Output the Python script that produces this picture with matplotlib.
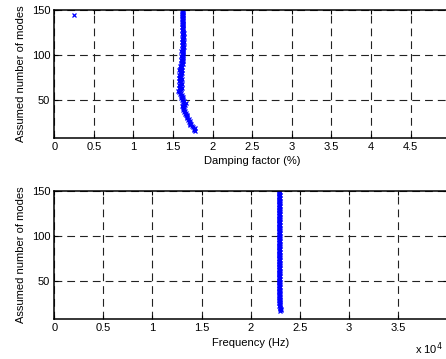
import numpy as np
import matplotlib
matplotlib.use("Agg")
import matplotlib.pyplot as plt

# numero de modos supuestos
modos = np.arange(16, 151)

# factor de amortiguamiento (%) por modo
amortiguamiento = [
    1.78, 1.77, 1.76, 1.78, 1.75,
    1.74, 1.72, 1.73, 1.71, 1.72,
    1.70, 1.71, 1.69, 1.70, 1.68,
    1.67, 1.68, 1.66, 1.67, 1.65,
    1.66, 1.64, 1.65, 1.63, 1.64,
    1.62, 1.64, 1.63, 1.61, 1.65,
    1.63, 1.66, 1.62, 1.64, 1.61,
    1.62, 1.60, 1.61, 1.63, 1.60,
    1.61, 1.59, 1.60, 1.58, 1.56,
    1.59, 1.60, 1.58, 1.61, 1.59,
    1.60, 1.58, 1.61, 1.59, 1.60,
    1.58, 1.60, 1.59, 1.61, 1.58,
    1.60, 1.59, 1.58, 1.60, 1.61,
    1.59, 1.60, 1.58, 1.61, 1.59,
    1.60, 1.61, 1.59, 1.60, 1.62,
    1.60, 1.61, 1.62, 1.60, 1.61,
    1.62, 1.61, 1.63, 1.60, 1.62,
    1.61, 1.63, 1.62, 1.60, 1.62,
    1.63, 1.61, 1.62, 1.64, 1.62,
    1.61, 1.63, 1.62, 1.64, 1.61,
    1.62, 1.63, 1.61, 1.62, 1.64,
    1.62, 1.63, 1.61, 1.64, 1.62,
    1.63, 1.62, 1.61, 1.63, 1.62,
    1.61, 1.62, 1.63, 1.61, 1.62,
    1.62, 1.61, 1.63, 1.62, 1.61,
    1.62, 1.61, 1.62, 1.63, 1.61,
    1.62, 1.61, 1.62, 1.61, 1.62,
]

# punto aislado
modo_aislado = [144]
amort_aislado = [0.25]

# frecuencia (escala x 10^n) por modo
frecuencia = [
    2.30, 2.31, 2.30, 2.31, 2.30,
    2.30, 2.29, 2.30, 2.30, 2.29,
    2.30, 2.29, 2.30, 2.29, 2.30,
    2.29, 2.30, 2.29, 2.29, 2.30,
    2.29, 2.30, 2.29, 2.29, 2.30,
    2.29, 2.29, 2.30, 2.29, 2.29,
    2.30, 2.29, 2.29, 2.30, 2.29,
    2.29, 2.30, 2.29, 2.29, 2.30,
    2.29, 2.29, 2.30, 2.29, 2.29,
    2.30, 2.29, 2.29, 2.30, 2.29,
    2.29, 2.30, 2.29, 2.29, 2.30,
    2.29, 2.29, 2.30, 2.29, 2.29,
    2.30, 2.29, 2.29, 2.30, 2.29,
    2.29, 2.30, 2.29, 2.29, 2.30,
    2.29, 2.29, 2.30, 2.29, 2.29,
    2.30, 2.29, 2.29, 2.30, 2.29,
    2.29, 2.30, 2.29, 2.29, 2.30,
    2.29, 2.29, 2.30, 2.29, 2.29,
    2.30, 2.29, 2.29, 2.30, 2.29,
    2.29, 2.30, 2.29, 2.29, 2.30,
    2.29, 2.29, 2.30, 2.29, 2.29,
    2.30, 2.29, 2.29, 2.30, 2.29,
    2.29, 2.30, 2.29, 2.29, 2.30,
    2.29, 2.29, 2.30, 2.29, 2.29,
    2.30, 2.29, 2.29, 2.30, 2.29,
    2.29, 2.30, 2.29, 2.29, 2.30,
    2.29, 2.29, 2.30, 2.29, 2.29,
]

plt.rcParams['font.family'] = ['Liberation Sans', 'DejaVu Sans']
plt.rcParams['font.size'] = 8

fig = plt.figure(figsize=(4.46, 3.59), dpi=100)
# los ejes siguen mas alla del borde derecho, como en la figura original
ax1 = fig.add_axes([0.1218, 0.6156, 0.8875, 0.3565])
ax2 = fig.add_axes([0.1218, 0.1106, 0.8805, 0.3582])

def estilo(ax):
    ax.grid(True, color='#222222', linestyle=(0, (7, 4.5)), linewidth=0.8)
    ax.tick_params(direction='in', top=True, right=True, length=3, width=0.8,
                   labelsize=8, pad=3)
    for s in ax.spines.values():
        s.set_linewidth(1.1)
    ax.set_yticks([50, 100, 150])
    ax.set_ylim(8, 150)
    ax.set_ylabel('Assumed number of modes', fontsize=8, labelpad=4)

ax1.plot(amortiguamiento, modos, 'x', color='#0000ff', markersize=3.5, markeredgewidth=0.9)
ax1.plot(amort_aislado, modo_aislado, 'x', color='#0000ff', markersize=3.5, markeredgewidth=0.9)
ax1.set_xlim(0, 5)
ax1.set_xticks(np.arange(0, 4.51, 0.5))
ax1.set_xticklabels(['0', '0.5', '1', '1.5', '2', '2.5', '3', '3.5', '4', '4.5'])
ax1.set_xlabel('Damping factor (%)', fontsize=8, labelpad=3)
estilo(ax1)

ax2.plot(frecuencia, modos, 'x', color='#0000ff', markersize=3.5, markeredgewidth=0.9)
ax2.set_xlim(0, 4)
ax2.set_xticks(np.arange(0, 3.51, 0.5))
ax2.set_xticklabels(['0', '0.5', '1', '1.5', '2', '2.5', '3', '3.5'])
ax2.set_xlabel('Frequency (Hz)', fontsize=8, labelpad=3)
estilo(ax2)
ax2.set_ylim(7, 150)

fig.text(443 / 446, 1 - 349 / 359, 'x 10$^{4}$', fontsize=8, ha='right', va='center')

fig.savefig('out.png', dpi=100)
